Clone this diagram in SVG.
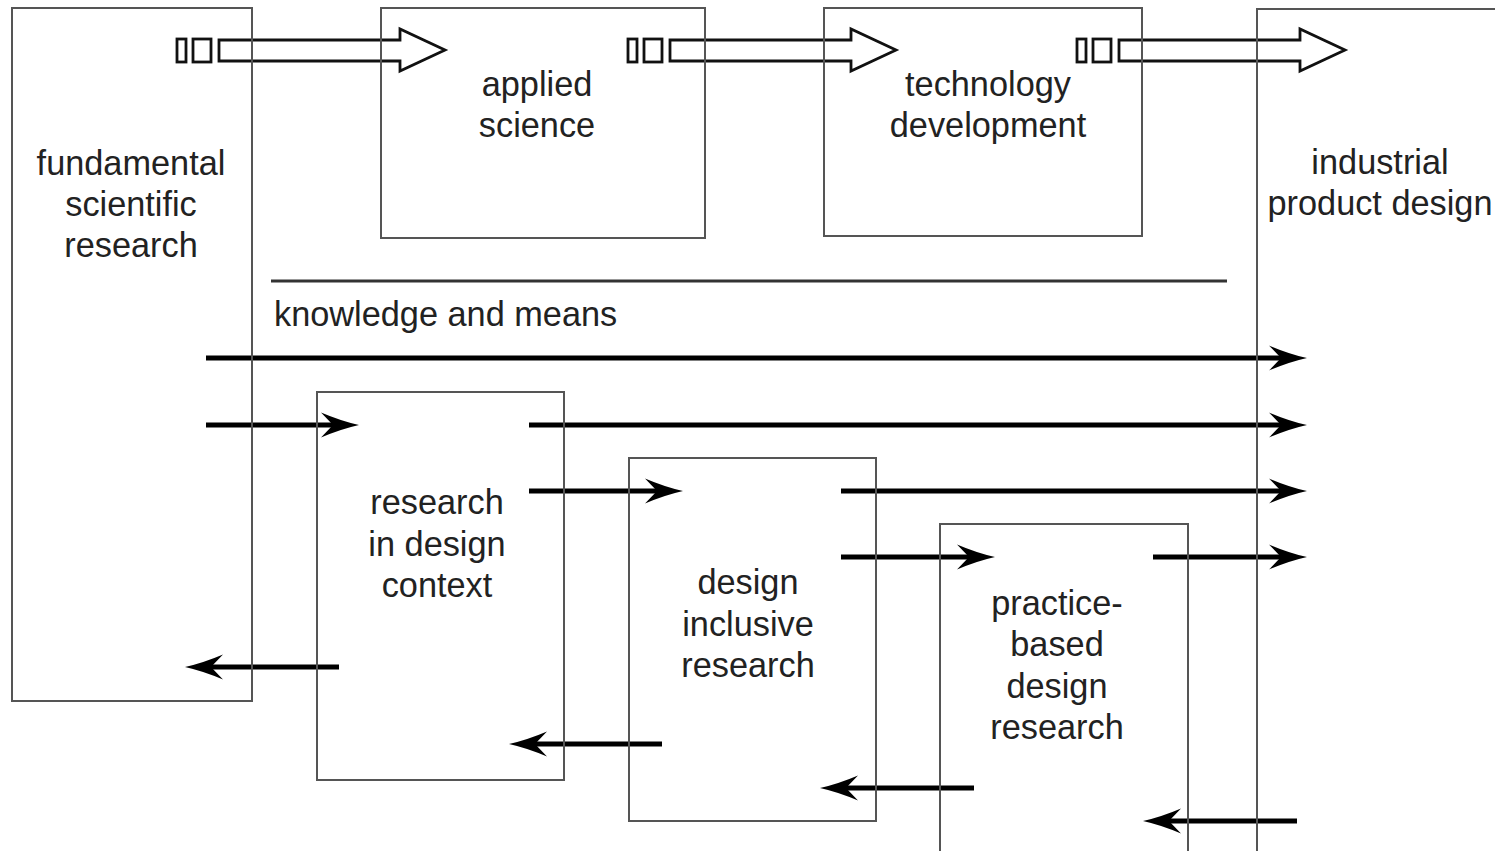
<svg xmlns="http://www.w3.org/2000/svg" xmlns:xlink="http://www.w3.org/1999/xlink" width="1495" height="851" viewBox="0 0 1495 851">
  <style>
    .box { fill: none; stroke: #555; stroke-width: 2; }
    .label { font-family: "Liberation Sans", Arial, sans-serif; font-size: 34.3px; fill: #222; text-anchor: middle; }
    .plain { font-family: "Liberation Sans", Arial, sans-serif; font-size: 34.3px; fill: #222; }
    .flow { stroke: #000; stroke-width: 5; fill: none; marker-end: url(#head); }
    .block { fill: none; stroke: #111; stroke-width: 2.8; stroke-linejoin: miter; }
    .rule { stroke: #333; stroke-width: 3; }
  </style>
  <defs>
    <!-- barbed arrowhead for the thick flow lines; line ends in the notch -->
    <marker id="head" markerUnits="userSpaceOnUse" viewBox="-40 -14 42 28" markerWidth="42" markerHeight="28" refX="-24" refY="0" orient="auto">
      <path d="M0,0 Q-18,-4 -38,-12.5 L-26,0 L-38,12.5 Q-18,4 0,0 Z" fill="#000"/>
    </marker>
    <!-- hollow block arrow with two small lead-in boxes; origin at body start -->
    <g id="blockArrow" class="block">
      <rect x="-42" y="39" width="9" height="23"/>
      <rect x="-26" y="39" width="18" height="23"/>
      <path d="M0,40 H181 V29 L226,50 L181,71 V61 H0 Z"/>
    </g>
  </defs>

  <rect width="1495" height="851" fill="#fff"/>

  <g id="connectors">
    <use xlink:href="#blockArrow" x="219"/>
    <use xlink:href="#blockArrow" x="670"/>
    <use xlink:href="#blockArrow" x="1119"/>

    <line class="flow" x1="206" y1="358" x2="1283" y2="358"/>
    <line class="flow" x1="206" y1="425" x2="335" y2="425"/>
    <line class="flow" x1="529" y1="425" x2="1283" y2="425"/>
    <line class="flow" x1="529" y1="491" x2="659" y2="491"/>
    <line class="flow" x1="841" y1="491" x2="1283" y2="491"/>
    <line class="flow" x1="841" y1="557" x2="971" y2="557"/>
    <line class="flow" x1="1153" y1="557" x2="1283" y2="557"/>

    <line class="flow" x1="339" y1="667" x2="209" y2="667"/>
    <line class="flow" x1="662" y1="744" x2="533" y2="744"/>
    <line class="flow" x1="974" y1="788" x2="844" y2="788"/>
    <line class="flow" x1="1297" y1="821" x2="1167" y2="821"/>
  </g>

  <g id="fundamental">
    <rect class="box" x="12" y="8" width="240" height="693"/>
    <text class="label" x="131" y="175">fundamental</text>
    <text class="label" x="131" y="216">scientific</text>
    <text class="label" x="131" y="257">research</text>
  </g>

  <g id="applied-science">
    <rect class="box" x="381" y="8" width="324" height="230"/>
    <text class="label" x="537" y="96">applied</text>
    <text class="label" x="537" y="137">science</text>
  </g>

  <g id="technology-development">
    <rect class="box" x="824" y="8" width="318" height="228"/>
    <text class="label" x="988" y="96">technology</text>
    <text class="label" x="988" y="137">development</text>
  </g>

  <g id="industrial-product-design">
    <rect class="box" x="1257" y="9" width="260" height="900"/>
    <text class="label" x="1380" y="174">industrial</text>
    <text class="label" x="1380" y="215">product design</text>
  </g>

  <g id="knowledge-and-means">
    <line class="rule" x1="271" y1="281" x2="1227" y2="281"/>
    <text class="plain" x="274" y="326">knowledge and means</text>
  </g>

  <g id="research-in-design-context">
    <rect class="box" x="317" y="392" width="247" height="388"/>
    <text class="label" x="437" y="514">research</text>
    <text class="label" x="437" y="556">in design</text>
    <text class="label" x="437" y="597">context</text>
  </g>

  <g id="design-inclusive-research">
    <rect class="box" x="629" y="458" width="247" height="363"/>
    <text class="label" x="748" y="594">design</text>
    <text class="label" x="748" y="636">inclusive</text>
    <text class="label" x="748" y="677">research</text>
  </g>

  <g id="practice-based-design-research">
    <rect class="box" x="940" y="524" width="248" height="400"/>
    <text class="label" x="1057" y="615">practice-</text>
    <text class="label" x="1057" y="656">based</text>
    <text class="label" x="1057" y="698">design</text>
    <text class="label" x="1057" y="739">research</text>
  </g>
</svg>
